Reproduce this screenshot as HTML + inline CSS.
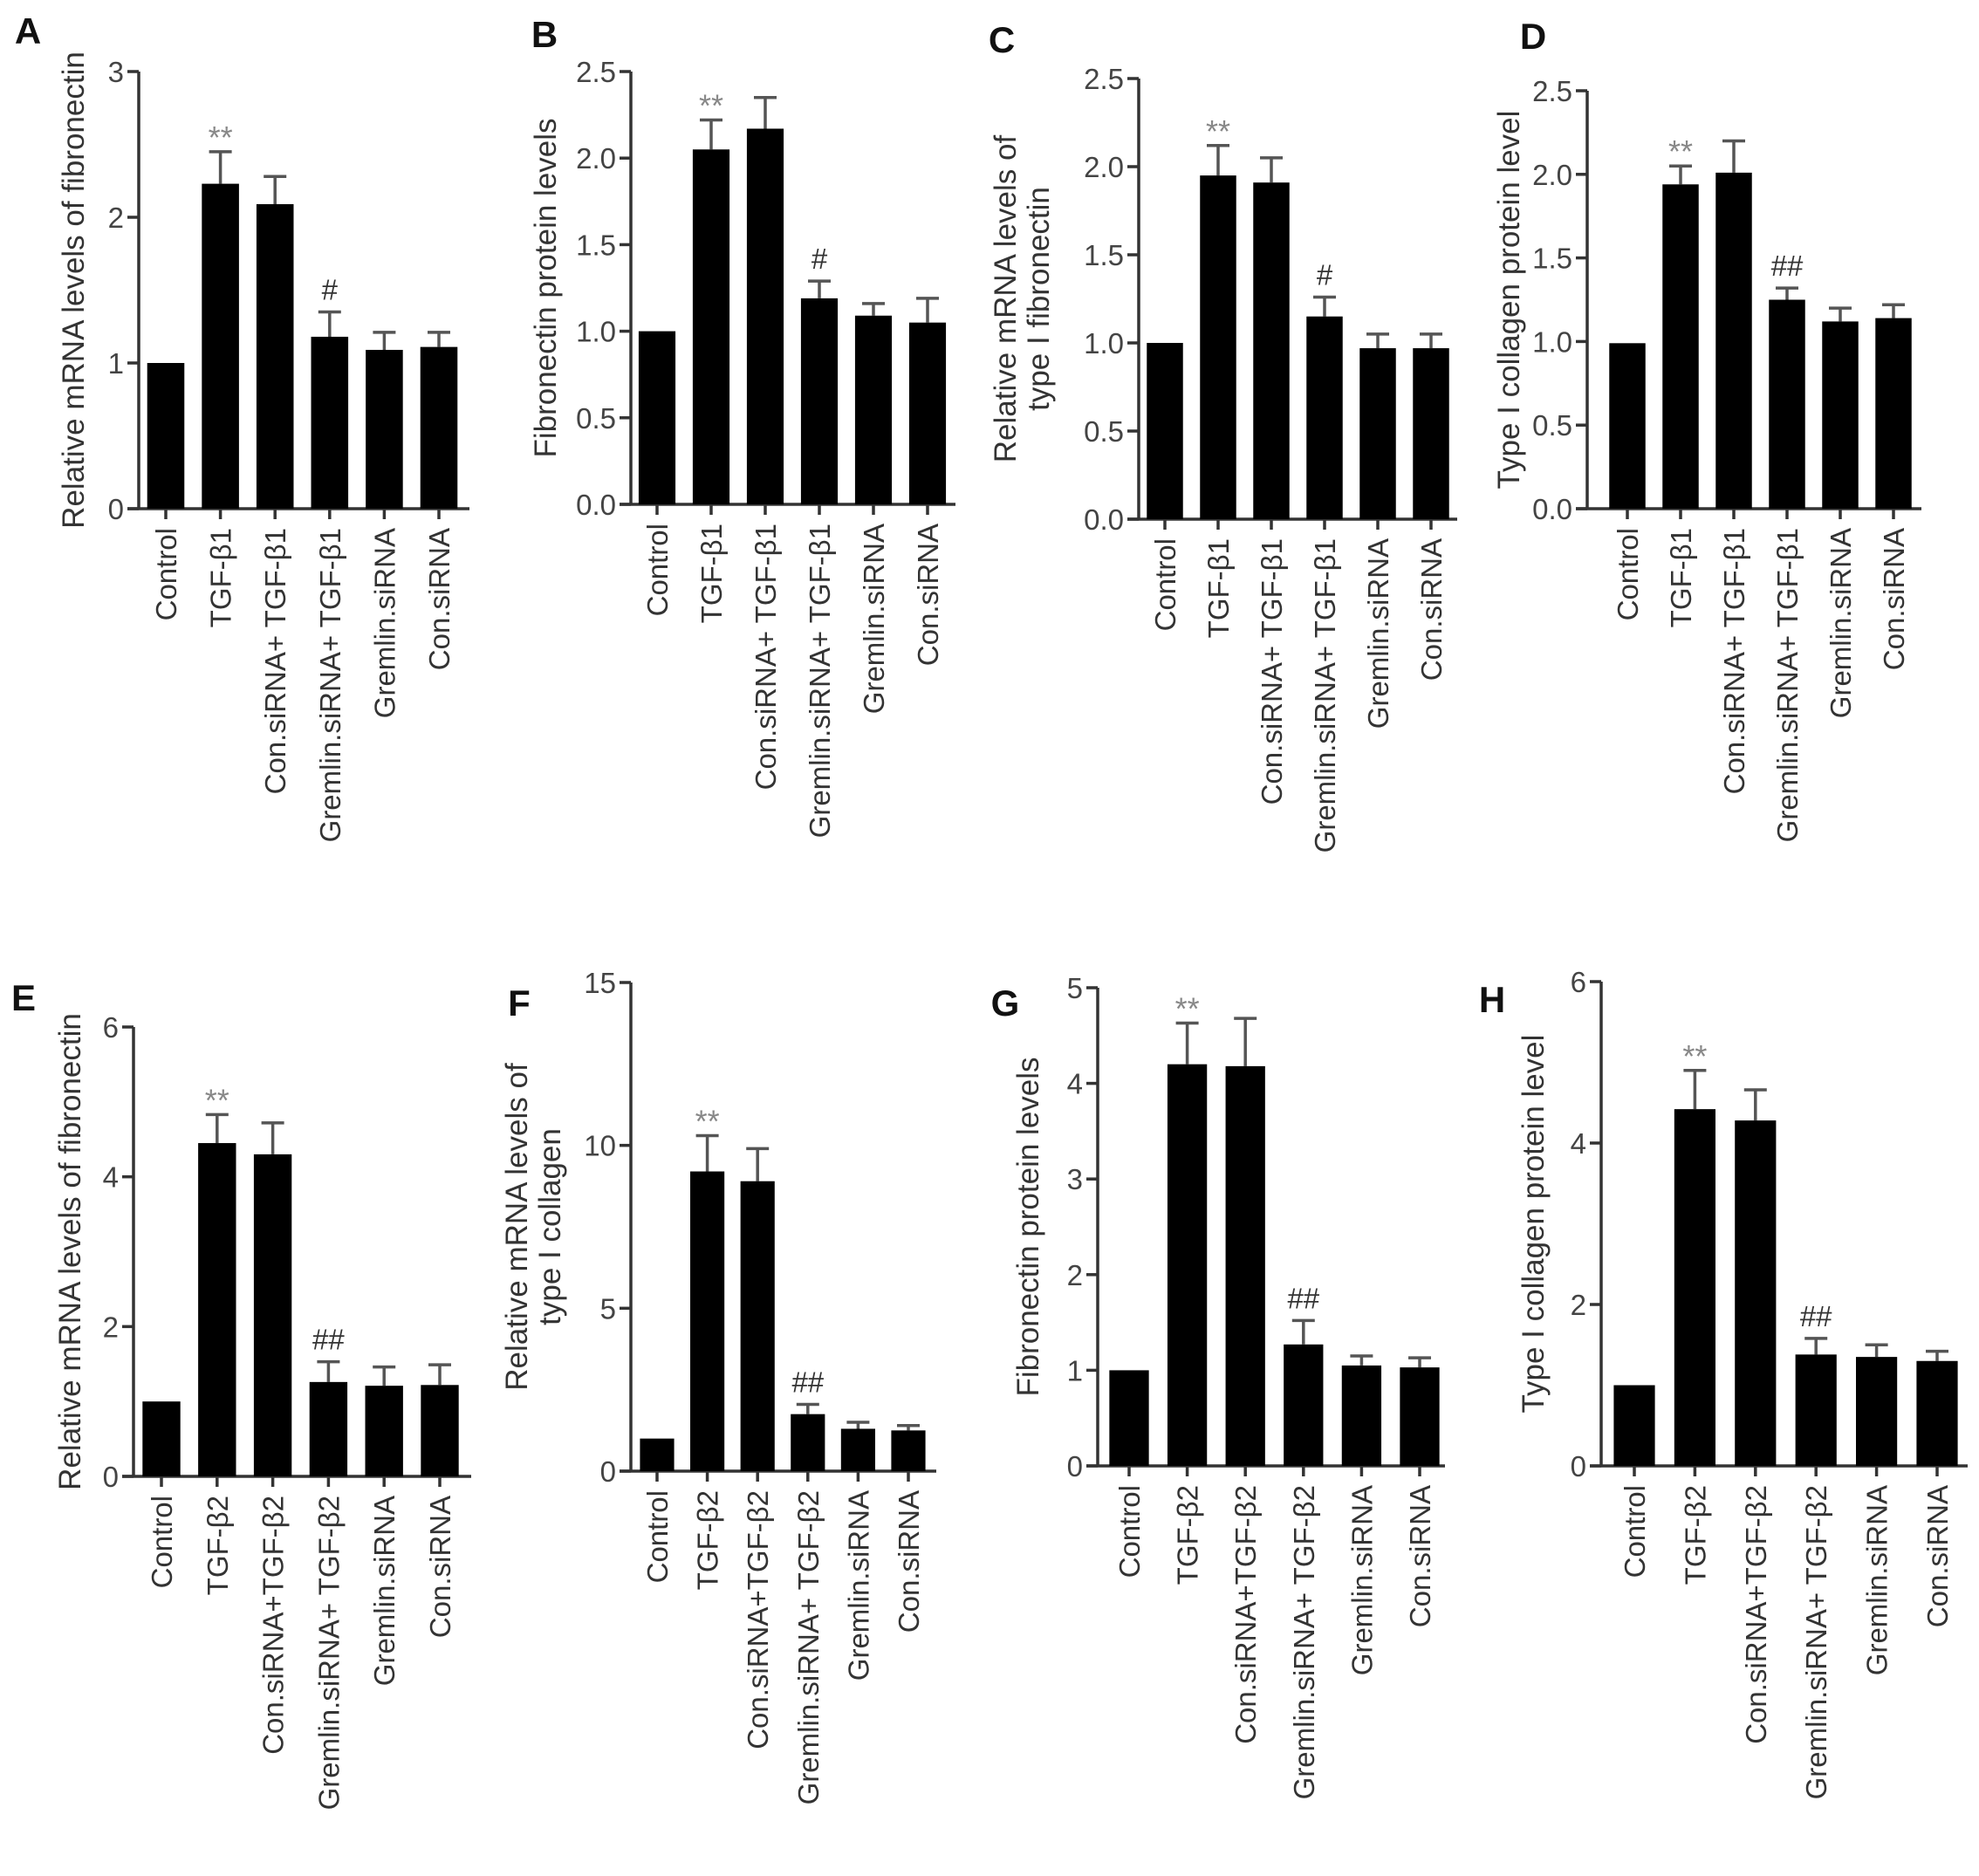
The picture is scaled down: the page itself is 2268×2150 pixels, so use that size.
<!DOCTYPE html>
<html><head><meta charset="utf-8"><style>
html,body{margin:0;padding:0;background:#fff;}
svg{display:block;font-family:"Liberation Sans",sans-serif;}
</style></head><body>
<svg id="fig" width="2268" height="2150" viewBox="0 0 2268 2150" xmlns="http://www.w3.org/2000/svg"></svg>
<script>
const labels1 = ["Control","TGF-β1","Con.siRNA+ TGF-β1","Gremlin.siRNA+ TGF-β1","Gremlin.siRNA","Con.siRNA"];
const labels2 = ["Control","TGF-β2","Con.siRNA+TGF-β2","Gremlin.siRNA+ TGF-β2","Gremlin.siRNA","Con.siRNA"];
const valsA = [1.0, 2.23, 2.09, 1.18, 1.09, 1.11];
const errA  = [0, 0.22, 0.19, 0.17, 0.12, 0.10];
const valsB = [1.0, 2.05, 2.17, 1.19, 1.09, 1.05];
const errB  = [0, 0.17, 0.18, 0.10, 0.07, 0.14];
const valsC = [1.0, 1.95, 1.91, 1.15, 0.97, 0.97];
const errC  = [0, 0.17, 0.14, 0.11, 0.08, 0.08];
const valsD = [0.99, 1.94, 2.01, 1.25, 1.12, 1.14];
const errD  = [0, 0.11, 0.19, 0.07, 0.08, 0.08];
const valsE = [1.0, 4.45, 4.30, 1.26, 1.21, 1.22];
const errE  = [0, 0.38, 0.42, 0.27, 0.25, 0.27];
const valsF = [1.0, 9.2, 8.9, 1.75, 1.3, 1.25];
const errF  = [0, 1.1, 1.0, 0.3, 0.2, 0.15];
const valsG = [1.0, 4.2, 4.18, 1.27, 1.05, 1.03];
const errG  = [0, 0.43, 0.5, 0.25, 0.1, 0.1];
const valsH = [1.0, 4.42, 4.28, 1.38, 1.35, 1.3];
const errH  = [0, 0.48, 0.38, 0.2, 0.15, 0.12];
const ticksA = ["0","1","2","3"];
const ticksB = ["0.0","0.5","1.0","1.5","2.0","2.5"];
const ticksE = ["0","2","4","6"];
const ticksF = ["0","5","10","15"];
const ticksG = ["0","1","2","3","4","5"];
const marks1 = ["", "**", "", "#", "", ""];
const marks2 = ["", "**", "", "##", "", ""];
const marks3 = ["", "**", "", "##", "", ""];

const NS="http://www.w3.org/2000/svg";
const svg=document.getElementById('fig');
function mk(tag,attrs,parent,text){const e=document.createElementNS(NS,tag);for(const k in attrs)e.setAttribute(k,attrs[k]);if(text!==undefined)e.textContent=text;(parent||svg).appendChild(e);return e;}

const panels=[
 {id:"A",vals:valsA,err:errA,ticks:ticksA,max:3,labels:labels1,marks:marks1,ax:159,top:82,bot:583,c0:190,c5:503,end:538,title:["Relative mRNA levels of fibronectin"],tx:[84],lx:32,ly:50},
 {id:"B",vals:valsB,err:errB,ticks:ticksB,max:2.5,labels:labels1,marks:marks1,ax:723,top:82,bot:578,c0:753,c5:1063,end:1095,title:["Fibronectin protein levels"],tx:[625],lx:624,ly:54},
 {id:"C",vals:valsC,err:errC,ticks:ticksB,max:2.5,labels:labels1,marks:marks1,ax:1305,top:90,bot:595,c0:1335,c5:1640,end:1670,title:["Relative mRNA levels of","type I  fibronectin"],tx:[1152,1190],lx:1148,ly:60},
 {id:"D",vals:valsD,err:errD,ticks:ticksB,max:2.5,labels:labels1,marks:marks2,ax:1819,top:104,bot:583,c0:1865,c5:2170,end:2202,title:["Type I collagen protein level"],tx:[1729],lx:1757,ly:56},
 {id:"E",vals:valsE,err:errE,ticks:ticksE,max:6,labels:labels2,marks:marks3,ax:153,top:1177,bot:1692,c0:185,c5:504,end:540,title:["Relative mRNA levels of fibronectin"],tx:[80],lx:27,ly:1158},
 {id:"F",vals:valsF,err:errF,ticks:ticksF,max:15,labels:labels2,marks:marks3,ax:723,top:1126,bot:1686,c0:753,c5:1041,end:1073,title:["Relative mRNA levels of","type I collagen"],tx:[592,630],lx:595,ly:1164},
 {id:"G",vals:valsG,err:errG,ticks:ticksG,max:5,labels:labels2,marks:marks3,ax:1258,top:1132,bot:1680,c0:1294,c5:1627,end:1656,title:["Fibronectin protein levels"],tx:[1178],lx:1152,ly:1164},
 {id:"H",vals:valsH,err:errH,ticks:ticksE,max:6,labels:labels2,marks:marks3,ax:1835,top:1125,bot:1680,c0:1873,c5:2220,end:2255,title:["Type I collagen protein level"],tx:[1757],lx:1710,ly:1160}
];

panels.forEach(p=>{
  const g=mk('g',{});
  
  
  const y=v=>p.bot-(v/p.max)*(p.bot-p.top);
  const step=(p.c5-p.c0)/5;
  const x=i=>p.c0+i*step;
  const bw=step*0.68;
  const L=mk('text',{x:p.lx,y:p.ly,'font-size':42,'font-weight':'bold',fill:'#111','text-anchor':'middle'},g,p.id);
  
  
  const ya=mk('line',{x1:p.ax,y1:p.top,x2:p.ax,y2:p.bot,stroke:'#333','stroke-width':3.5},g);
  
  
  const xa=mk('line',{x1:p.ax-13,y1:p.bot,x2:p.end,y2:p.bot,stroke:'#333','stroke-width':3.5},g);
  
  
  const n=p.ticks.length;
  p.ticks.forEach((t,i)=>{
    const v=p.max*i/(n-1);const ty=y(v);
    mk('line',{x1:p.ax-13,y1:ty,x2:p.ax,y2:ty,stroke:'#333','stroke-width':3.5},g);
    const tl=mk('text',{x:p.ax-17,y:ty+12,'font-size':33,fill:'#444','text-anchor':'end'},g,t);
    
    
  });
  const tcy=(p.top+p.bot)/2;
  p.title.forEach((t,i)=>{
    const tt=mk('text',{x:p.tx[i],y:tcy,'font-size':35,fill:'#333','text-anchor':'middle',transform:`rotate(-90 ${p.tx[i]} ${tcy})`,dy:12},g,t);
    
    
  });
  p.vals.forEach((v,i)=>{
    const cx=x(i);
    if(p.err[i]>0){
      const e=mk('path',{d:`M${cx} ${y(v)} V${y(v+p.err[i])} M${cx-13} ${y(v+p.err[i])} H${cx+13}`,stroke:'#555','stroke-width':3.5,fill:'none'},g);
      
      
    }
    const b=mk('rect',{x:cx-bw/2,y:y(v),width:bw,height:p.bot-y(v),fill:'#000'},g);
    
    
    mk('line',{x1:cx,y1:p.bot,x2:cx,y2:p.bot+12,stroke:'#333','stroke-width':3.5},g);
    if(p.marks[i]){
      const star=p.marks[i]==="**";
      const m=mk('text',{x:cx,y:y(v+p.err[i])-14+(star?10:0),'font-size':star?36:33,fill:star?'#888':'#333','text-anchor':'middle'},g,p.marks[i]);
      
      
    }
    const ly=p.bot+22;
    const xl=mk('text',{x:cx,y:ly,'font-size':33,fill:'#333','text-anchor':'end',transform:`rotate(-90 ${cx} ${ly})`,dy:12},g,p.labels[i]);
    
    
  });
});
</script>
</body></html>
